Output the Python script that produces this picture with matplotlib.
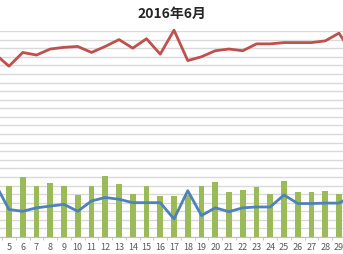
import numpy as np
import matplotlib
matplotlib.use("Agg")
import matplotlib.pyplot as plt

# Chart is cropped: only days 5..29 are fully visible, 4 and 30 run off the edges.
days = list(range(4, 31))
bars = [5.9, 6.0, 7.0, 6.0, 6.3, 5.9, 4.9, 6.0, 7.1, 6.2, 5.0, 6.0, 4.8, 4.8, 4.9,
        5.9, 6.4, 5.2, 5.5, 5.8, 5.0, 6.5, 5.3, 5.3, 5.4, 5.0, 5.2]
blue = [6.2, 3.2, 3.0, 3.4, 3.6, 3.8, 3.0, 4.2, 4.6, 4.4, 4.0, 4.0, 4.0, 2.1, 5.4,
        2.5, 3.4, 2.95, 3.4, 3.5, 3.5, 4.9, 3.9, 3.9, 3.95, 3.95, 4.8]
red = [21.3, 19.9, 21.5, 21.2, 21.9, 22.1, 22.2, 21.5, 22.2, 23.0, 22.0, 23.1, 21.3,
       24.1, 20.55, 21.0, 21.7, 21.9, 21.7, 22.5, 22.5, 22.65, 22.65, 22.65, 22.85,
       23.75, 21.3]
title = "2016年6月"

W, H = 343, 254
X0, STEP = 9.0, 13.75   # pixel of day 5, pixels per day


def main():
	plt.rcParams['font.family'] = ['Noto Sans CJK SC', 'DejaVu Sans']
	fig = plt.figure(figsize=(W / 100, H / 100), dpi=100)
	ax = fig.add_axes([0, 17 / H, 1, 206 / H])

	ax.bar(days, bars, width=0.41, color='#9bbb59', zorder=2)
	ax.plot(days, blue, color='#4f81bd', lw=2, zorder=3)
	ax.plot(days, red, color='#c0504d', lw=2, zorder=3, clip_on=False)

	ax.set_yticks(np.arange(0, 25, 1))
	ax.yaxis.grid(True, color='#d9d9d9', lw=1)
	ax.set_axisbelow(True)
	ax.tick_params(axis='y', left=False, labelleft=False)

	ax.set_xticks(days)
	ax.set_xticklabels([str(d) for d in days])
	ax.set_xticks(np.arange(3.5, 31, 1), minor=True)
	ax.tick_params(axis='x', which='major', length=0, labelsize=6.5,
		labelcolor='#595959', pad=4)
	ax.tick_params(axis='x', which='minor', length=2.5, color='#bfbfbf', direction='out')

	# limits after the ticks, set_xticks would widen them again
	ax.set_xlim(5 - X0 / STEP, 5 + (W - X0) / STEP)
	ax.set_ylim(0, 24)

	for s in ['top', 'left', 'right']:
		ax.spines[s].set_visible(False)
	ax.spines['bottom'].set_color('#bfbfbf')

	fig.text(0.5, 1 - 14 / H, title, ha='center', va='center',
		fontsize=10, fontweight='bold', color='#262626')

	plt.savefig("out.png", dpi=100)


if __name__ == "__main__":
	main()
